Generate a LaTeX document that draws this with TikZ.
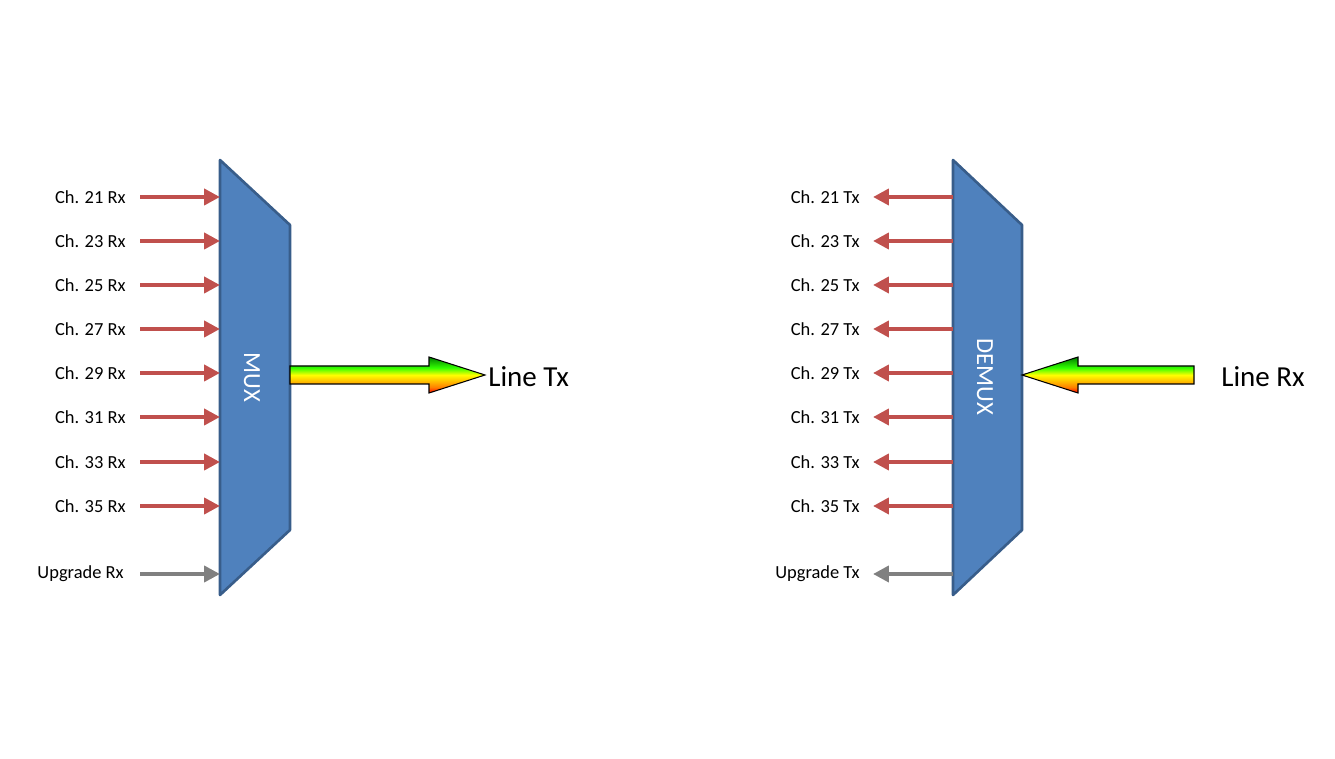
\documentclass[tikz,border=0pt]{standalone}
\usepackage{fontspec}
\setmainfont{Carlito}
\usetikzlibrary{arrows.meta}
\definecolor{boxfill}{HTML}{4F81BD}
\definecolor{boxline}{HTML}{385D8A}
\definecolor{chred}{HTML}{C0504D}
\definecolor{upg}{HTML}{808080}
\pgfdeclareverticalshading{rainbow}{100bp}{color(0bp)=(magenta!80!red); color(25bp)=(red); color(33bp)=(orange); color(50bp)=(yellow); color(60bp)=(green!80!yellow); color(75bp)=(green!50!black); color(86bp)=(blue); color(100bp)=(violet)}
\tikzset{
  box/.style={fill=boxfill,draw=boxline,line width=1.5pt,line join=round},
  chan/.style={-{Triangle[length=9pt,width=9pt]},line width=2.6pt,chred},
  upgr/.style={-{Triangle[length=9pt,width=9pt]},line width=2.6pt,upg},
  lab/.style={anchor=east,font=\fontsize{10.5}{12}\selectfont,inner sep=0pt},
  big/.style={font=\fontsize{16.5}{19}\selectfont,inner sep=0pt},
  rb/.style={draw=black,line width=0.6pt,shading=rainbow}
}
\begin{document}
\begin{tikzpicture}[x=0.02cm,y=-0.02cm]
\useasboundingbox (0,0) rectangle (1335,759);
% MUX
\draw[box] (220,160) -- (290,225) -- (290,530) -- (220,595) -- cycle;
\node[rotate=-90,text=white,font=\fontsize{14}{16}\selectfont] (mux) at (252,377) {MUX};
\foreach \n/\y in {21/197,23/241,25/285,27/329,29/373,31/417,33/462,35/506}{
  \coordinate (ms\n) at (140,\y); \coordinate (me\n) at (220,\y);
  \draw[chan] (ms\n) -- (me\n);
  \node[lab] (ml\n) at (126,\y) {Ch. \n\ Rx};
}
\coordinate (msu) at (140,574); \coordinate (meu) at (220,574);
\draw[upgr] (msu) -- (meu);
\node[lab] (mlu) at (124,574) {Upgrade Rx};
\draw[rb] (290,366) -- (429,366) -- (429,357) -- (485,375) -- (429,393) -- (429,384) -- (290,384) -- cycle;
\node[big,anchor=west] (ltx) at (488,377) {Line Tx};
% DEMUX
\draw[box] (953,160) -- (1022,225) -- (1022,530) -- (953,595) -- cycle;
\node[rotate=-90,text=white,font=\fontsize{14}{16}\selectfont] (demux) at (985,377) {DEMUX};
\foreach \n/\y in {21/197,23/241,25/285,27/329,29/373,31/417,33/462,35/506}{
  \coordinate (ds\n) at (953,\y); \coordinate (de\n) at (873,\y);
  \draw[chan] (ds\n) -- (de\n);
  \node[lab] (dl\n) at (860,\y) {Ch. \n\ Tx};
}
\coordinate (dsu) at (953,574); \coordinate (deu) at (873,574);
\draw[upgr] (dsu) -- (deu);
\node[lab] (dlu) at (860,574) {Upgrade Tx};
\draw[rb] (1194,366) -- (1078,366) -- (1078,357) -- (1022,375) -- (1078,393) -- (1078,384) -- (1194,384) -- cycle;
\node[big,anchor=west] (lrx) at (1221,377) {Line Rx};
\end{tikzpicture}
\end{document}
